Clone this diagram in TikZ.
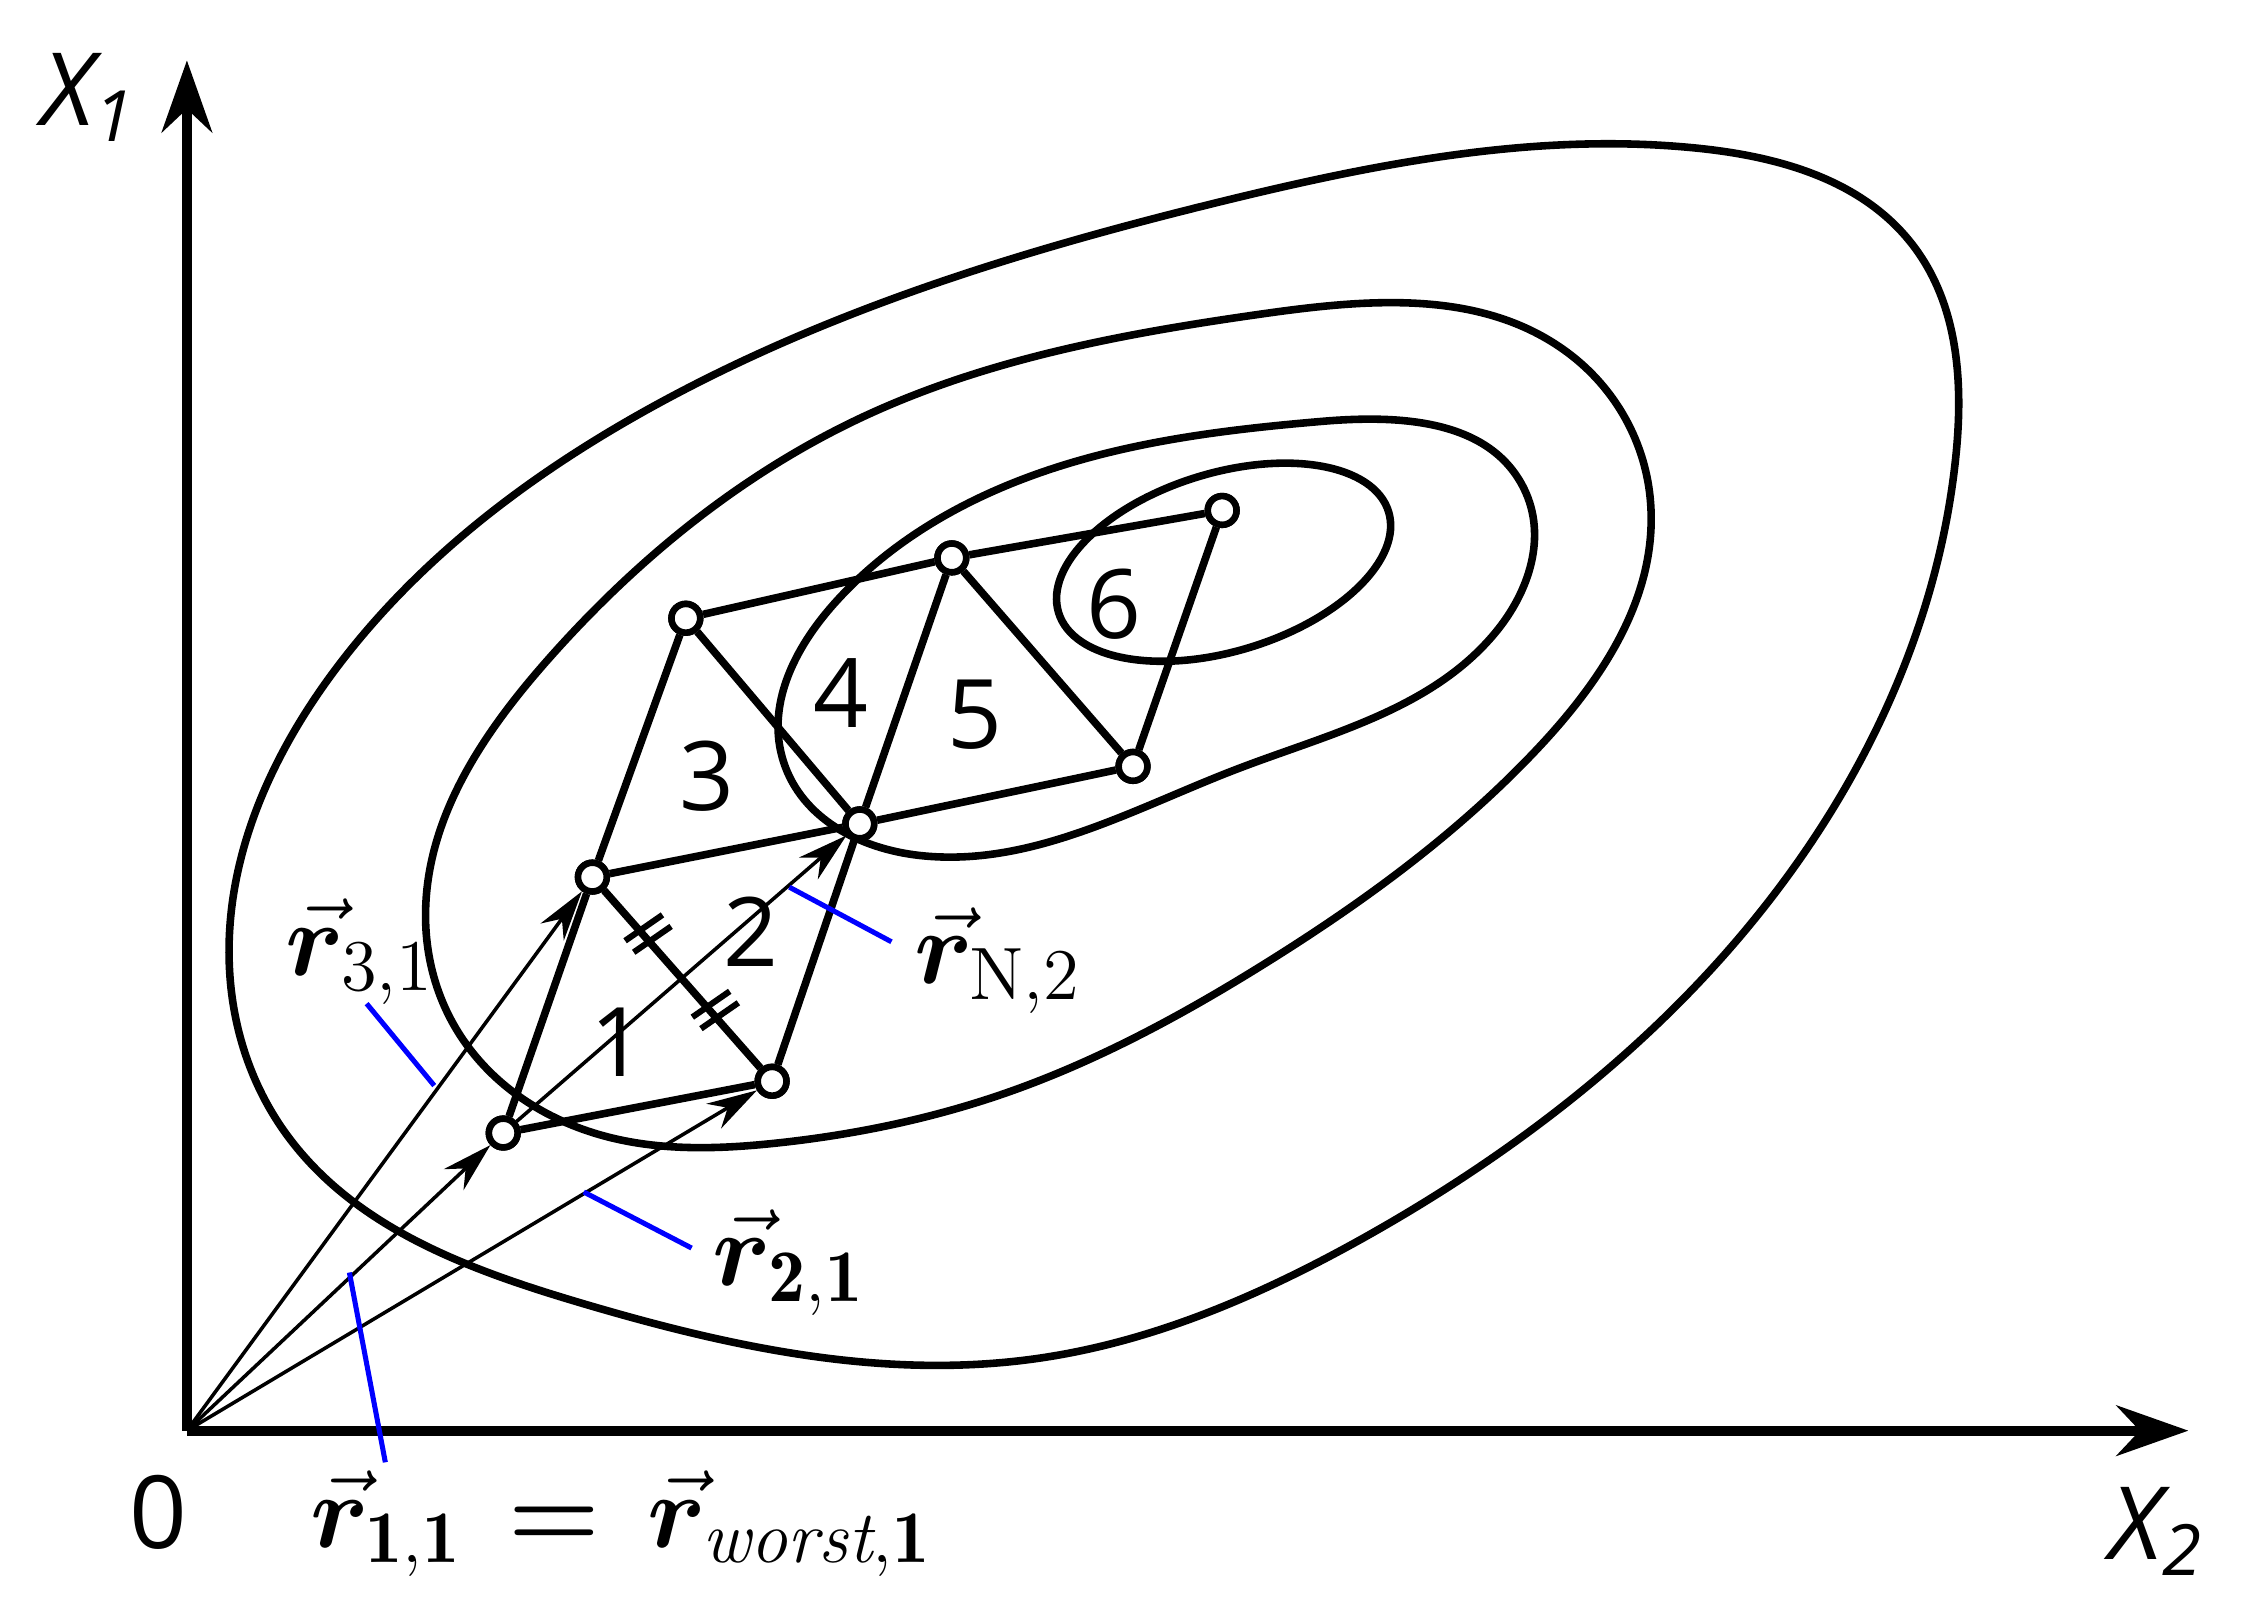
\documentclass[tikz,border=0pt]{standalone}
\usepackage{fontspec}
\usepackage{amsmath,bm}
\setsansfont{Open Sans}
\usetikzlibrary{arrows.meta,calc,hobby}
\begin{document}
\begin{tikzpicture}[x=0.1mm,y=-0.1mm,
  cont/.style={line width=1.5pt,line join=round},
  edge/.style={line width=1.5pt},
  thinarr/.style={line width=0.7pt,-{Stealth[length=3.5mm,width=2mm]}},
  vtx/.style={circle,draw,line width=1.3pt,fill=white,minimum size=2mm,inner sep=0pt},
  lead/.style={blue,line width=1pt},
  num/.style={font=\sffamily\fontsize{19}{19}\selectfont},
  lab/.style={font=\fontsize{21}{21}\selectfont,anchor=west,inner sep=0pt}]
\useasboundingbox (0,0) rectangle (1560,1121);
% contours
\draw[cont,use Hobby shortcut,closed=true] (160,680) .. (230,470) .. (450,285) .. (850,140) .. (1180,103) .. (1330,170) .. (1360,320) .. (1250,600) .. (950,860) .. (720,945) .. (400,905) .. (200,790);
\draw[cont,use Hobby shortcut,closed=true] (296,640) .. (380,460) .. (600,290) .. (880,218) .. (1090,245) .. (1148,350) .. (1070,520) .. (880,670) .. (700,760) .. (540,795) .. (420,790) .. (320,720);
\draw[cont,use Hobby shortcut,closed=true] (640,595) .. (860,535) .. (1040,440) .. (1060,340) .. (920,293) .. (720,330) .. (580,420) .. (545,530);
\draw[cont,rotate around={17:(851,391)}] (851,391) ellipse (120 and 62);
% vertices
\coordinate (O) at (130,995);
\node[vtx] (A) at (350,788) {};
\node[vtx] (B) at (537,752) {};
\node[vtx] (C) at (412,610) {};
\node[vtx] (D) at (598,573) {};
\node[vtx] (E) at (477,430) {};
\node[vtx] (F) at (662,388) {};
\node[vtx] (G) at (788,533) {};
\node[vtx] (H) at (850,355) {};
% vectors
\draw[thinarr] (O) -- (A);
\draw[thinarr] (O) -- (C);
\draw[thinarr] (O) -- (B);
\draw[thinarr] (A) -- (D);
% edges
\draw[edge] (A)--(B) (A)--(C) (B)--(D) (C)--(D) (C)--(E) (E)--(D) (E)--(F) (D)--(F) (F)--(G) (D)--(G) (F)--(H) (G)--(H);
\draw[edge] (C)--(B);
\foreach \t in {0.3,0.73}{
  \path (C) -- (B) coordinate[pos=\t] (m);
  \draw[line width=1.2pt] ([shift={(-18,-2)}]m) -- ([shift={(8,-20)}]m);
  \draw[line width=1.2pt] ([shift={(-12,6)}]m) -- ([shift={(14,-12)}]m);
}
\foreach \v in {A,B,C,D,E,F,G,H}{\node[vtx] at (\v) {};}
% axes
\draw[line width=2pt,-{Stealth[length=5mm,width=3.5mm]}] (O) -- (130,42);
\draw[line width=2pt,-{Stealth[length=5mm,width=3.5mm]}] (O) -- (1522,995);
\node[font=\sffamily\itshape\fontsize{20}{20}\selectfont] (x1) at (62,68) {X\textsubscript{1}};
\node[font=\sffamily\itshape\fontsize{20}{20}\selectfont] (x2) at (1500,1065) {X\textsubscript{2}};
\node[font=\sffamily\fontsize{20}{20}\selectfont] (o) at (110,1052) {0};
% region numbers
\node[num] (n1) at (430,725) {1};
\node[num] (n2) at (522,648) {2};
\node[num] (n3) at (492,540) {3};
\node[num] (n4) at (585,482) {4};
\node[num] (n5) at (678,497) {5};
\node[num] (n6) at (775,420) {6};
% leaders
\draw[lead] (302,755) -- (255,698);
\draw[lead] (406,829) -- (481,868);
\draw[lead] (243,885) -- (268,1017);
\draw[lead] (549,617) -- (620,655);
% labels
\node[lab] (l31) at (198,662) {$\vec{\bm r}_{3,1}$};
\node[lab] (lN2) at (635,668) {$\vec{\bm r}_{\mathrm N,2}$};
\node[lab] (l21) at (495,878) {$\vec{\bm r}_{\mathbf{2,1}}$};
\node[lab] (l11) at (215,1060) {$\vec{\bm r}_{\mathbf{1,1}}\,\bm{=}\,\vec{\bm r}_{\mathit{worst}\mathbf{,1}}$};
\end{tikzpicture}
\end{document}
